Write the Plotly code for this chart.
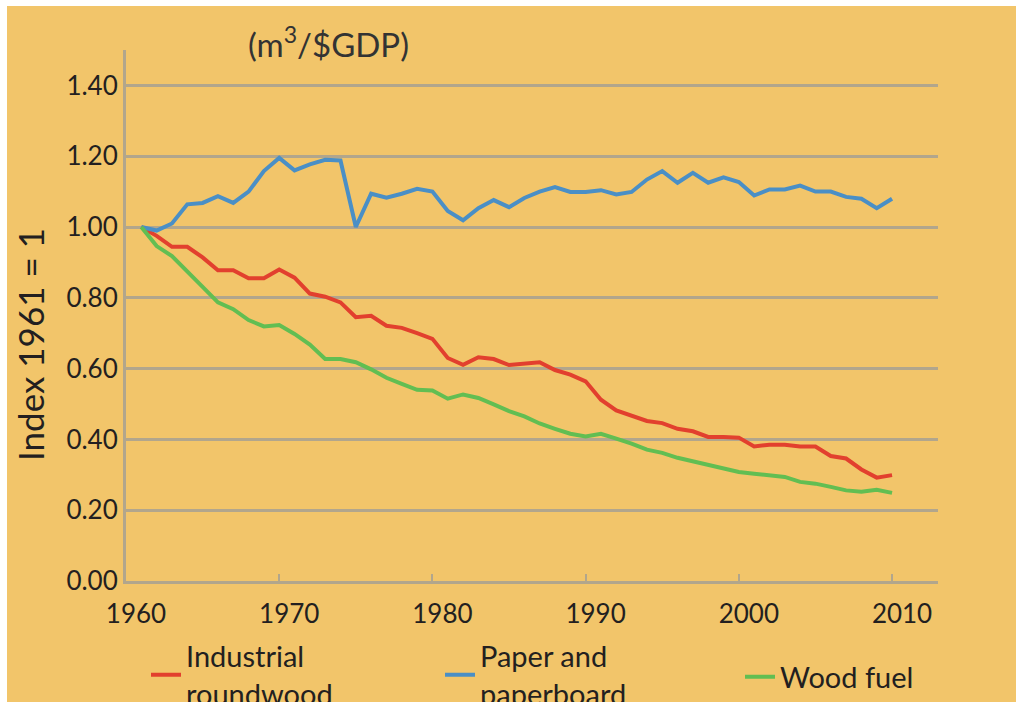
import plotly.graph_objects as go

years = list(range(1961, 2011))

industrial_roundwood = [
    1.00, 0.975, 0.944, 0.944, 0.914, 0.878, 0.878, 0.855, 0.855, 0.880,
    0.857, 0.812, 0.803, 0.787, 0.745, 0.749, 0.721, 0.715, 0.700, 0.684,
    0.630, 0.611, 0.632, 0.627, 0.610, 0.614, 0.618, 0.596, 0.583, 0.564,
    0.512, 0.482, 0.466, 0.452, 0.446, 0.430, 0.423, 0.407, 0.407, 0.405,
    0.380, 0.385, 0.385, 0.380, 0.380, 0.353, 0.346, 0.315, 0.292, 0.299,
]

paper_and_paperboard = [
    1.00, 0.99, 1.01, 1.064, 1.068, 1.087, 1.068, 1.10, 1.158, 1.195,
    1.16, 1.177, 1.19, 1.188, 1.00, 1.094, 1.083, 1.094, 1.108, 1.10,
    1.045, 1.019, 1.053, 1.076, 1.056, 1.082, 1.10, 1.113, 1.099, 1.099,
    1.104, 1.092, 1.099, 1.134, 1.158, 1.125, 1.153, 1.125, 1.14, 1.127,
    1.089, 1.106, 1.106, 1.117, 1.10, 1.10, 1.085, 1.08, 1.053, 1.08,
]

wood_fuel = [
    1.00, 0.946, 0.918, 0.876, 0.831, 0.787, 0.768, 0.737, 0.719, 0.723,
    0.698, 0.668, 0.627, 0.627, 0.618, 0.598, 0.574, 0.557, 0.540, 0.538,
    0.515, 0.527, 0.517, 0.499, 0.480, 0.465, 0.445, 0.430, 0.416, 0.408,
    0.416, 0.402, 0.388, 0.371, 0.362, 0.348, 0.338, 0.330, 0.320, 0.308,
    0.303, 0.299, 0.294, 0.280, 0.275, 0.266, 0.256, 0.252, 0.258, 0.249,
]

x_ticks = [1960, 1970, 1980, 1990, 2000, 2010]
y_ticks = [0.0, 0.2, 0.4, 0.6, 0.8, 1.0, 1.2, 1.4]

series_names = ["Industrial<br>roundwood", "Paper and<br>paperboard", "Wood fuel"]
series_values = [industrial_roundwood, paper_and_paperboard, wood_fuel]
series_colors = ["#E2402E", "#4A8FC6", "#62BE52"]

BG = "#F2C56A"
GRID = "#B2A68C"
TEXT = "#231F20"
FONT = "Lato"

fig = go.Figure()
legend_ids = ["legend", "legend2", "legend3"]
for name, vals, col, lg in zip(series_names, series_values, series_colors, legend_ids):
    fig.add_trace(go.Scatter(
        x=years, y=vals, mode="lines", name=name,
        line=dict(color=col, width=4),
        legend=lg,
    ))

# figure sits at (7, 6) in the page (body margin set below); overflow hidden
OFF_X, OFF_Y = 7, 6
W, H = 1016, 702
# plot area in screenshot pixels: x 126..938, y 50..581
L = 126 - OFF_X
T = 50 - OFF_Y
R = W - (938 - OFF_X)
B = H - (581 - OFF_Y)
pw, ph = W - L - R, H - T - B

def px_x(p):  # p: screenshot pixel
    return (p - OFF_X - L) / pw

def px_y(p):
    return (H - B - (p - OFF_Y)) / ph

leg_common = dict(
    orientation="h", yanchor="middle", xanchor="left",
    bgcolor="rgba(0,0,0,0)", font=dict(family=FONT, size=29, color=TEXT),
)

fig.update_layout(
    width=W, height=H,
    margin=dict(l=L, r=R, t=T, b=B, pad=0, autoexpand=False),
    paper_bgcolor=BG,
    plot_bgcolor=BG,
    font=dict(family=FONT, color=TEXT),
    showlegend=True,
    legend=dict(x=px_x(146), y=px_y(675), **leg_common),
    legend2=dict(x=px_x(440), y=px_y(675), **leg_common),
    legend3=dict(x=px_x(740), y=px_y(677), **leg_common),
    xaxis=dict(
        range=[1960, 2013], tickvals=x_ticks, ticktext=[str(v) for v in x_ticks],
        showgrid=False, zeroline=False,
        showline=True, linecolor=GRID, linewidth=3,
        ticks="inside", ticklen=7, tickwidth=2, tickcolor=GRID,
        tickfont=dict(family=FONT, size=26, color=TEXT),
        ticklabelshift=10, ticklabelstandoff=8,
    ),
    yaxis=dict(
        range=[0, 1.5], tickvals=y_ticks, tickformat=".2f",
        showgrid=True, gridcolor=GRID, gridwidth=3,
        zeroline=False, showline=True, linecolor=GRID, linewidth=3,
        ticks="", tickfont=dict(family=FONT, size=26, color=TEXT),
        ticklabelstandoff=0,
    ),
    annotations=[
        dict(text="(m<sup>3</sup>/$GDP)", xref="paper", yref="paper",
             x=px_x(328), y=px_y(42), xanchor="center", yanchor="middle",
             showarrow=False, font=dict(family=FONT, size=33, color="#333333")),
        dict(text="Index 1961 = 1", xref="paper", yref="paper",
             x=px_x(30), y=px_y(345), xanchor="center", yanchor="middle",
             textangle=-90, showarrow=False,
             font=dict(family=FONT, size=35, color=TEXT)),
    ],
)

fig.write_html(
    "out.html",
    post_script="document.documentElement.style.overflow='hidden';"
                "document.body.style.overflow='hidden';"
                "document.body.style.margin='6px 0 0 7px';",
)
